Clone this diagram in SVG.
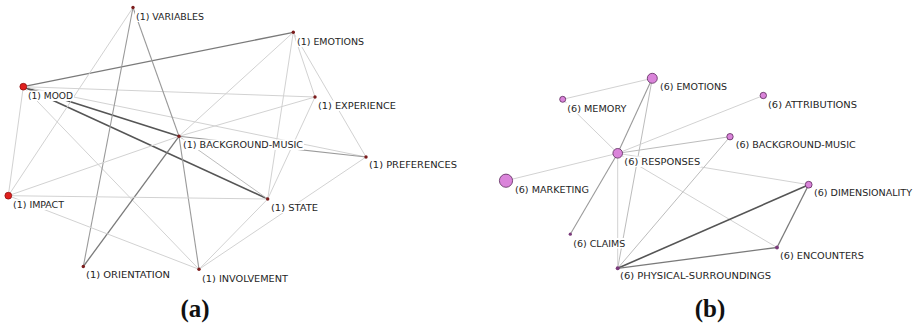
<svg xmlns="http://www.w3.org/2000/svg" width="920" height="329" viewBox="0 0 920 329">
  <style>
    .e-lt { stroke: #d2d2d2; stroke-width: 1; fill: none; }
    .e-ml { stroke: #bcbcbc; stroke-width: 1; fill: none; }
    .e-md { stroke: #9a9a9a; stroke-width: 1.1; fill: none; }
    .e-dm { stroke: #7a7a7a; stroke-width: 1.3; fill: none; }
    .e-dk { stroke: #555555; stroke-width: 1.6; fill: none; }
    .lbl-bg { fill: #ffffff; }
    .lbl { font-family: "DejaVu Sans Condensed", "Liberation Sans", sans-serif; font-size: 9.5px; fill: #252525; }
    .n-big { fill: #e0201e; stroke: #8e1212; stroke-width: 0.8; }
    .n-sm { fill: #7c1c1c; }
    .p-node { fill: #da84da; stroke: #5a2a5a; stroke-width: 0.8; }
    .p-sm { fill: #7a3a7a; }
    .cap { font-family: "Liberation Serif", "Times New Roman", serif; font-weight: bold; font-size: 25px; fill: #111111; }
  </style>

  <rect width="920" height="329" fill="#ffffff"/>

  <!-- network (a): connectors -->
  <g id="edges-a">
    <line class="e-dm" x1="23.3" y1="86.7" x2="293.3" y2="32.3"/>
    <line class="e-dk" x1="23.3" y1="86.7" x2="179" y2="136.3"/>
    <line class="e-dk" x1="23.3" y1="86.7" x2="267.7" y2="199"/>
    <line class="e-lt" x1="23.3" y1="86.7" x2="315" y2="97"/>
    <line class="e-lt" x1="23.3" y1="86.7" x2="366" y2="157"/>
    <line class="e-lt" x1="23.3" y1="86.7" x2="8.3" y2="195.7"/>
    <line class="e-lt" x1="23.3" y1="86.7" x2="199" y2="269.3"/>
    <line class="e-lt" x1="133" y1="7.5" x2="8.3" y2="195.7"/>
    <line class="e-md" x1="133" y1="7.5" x2="83.3" y2="266.5"/>
    <line class="e-md" x1="133" y1="7.5" x2="179" y2="136.3"/>
    <line class="e-md" x1="179" y1="136.3" x2="199" y2="269.3"/>
    <line class="e-dm" x1="179" y1="136.3" x2="83.3" y2="266.5"/>
    <line class="e-lt" x1="179" y1="136.3" x2="293.3" y2="32.3"/>
    <line class="e-lt" x1="8.3" y1="195.7" x2="179" y2="136.3"/>
    <line class="e-lt" x1="179" y1="136.3" x2="315" y2="97"/>
    <line class="e-ml" x1="179" y1="136.3" x2="267.7" y2="199"/>
    <line class="e-md" x1="179" y1="136.3" x2="366" y2="157"/>
    <line class="e-lt" x1="293.3" y1="32.3" x2="267.7" y2="199"/>
    <line class="e-lt" x1="293.3" y1="32.3" x2="315" y2="97"/>
    <line class="e-lt" x1="293.3" y1="32.3" x2="366" y2="157"/>
    <line class="e-lt" x1="315" y1="97" x2="267.7" y2="199"/>
    <line class="e-lt" x1="8.3" y1="195.7" x2="267.7" y2="199"/>
    <line class="e-lt" x1="8.3" y1="195.7" x2="199" y2="269.3"/>
    <line class="e-lt" x1="267.7" y1="199" x2="199" y2="269.3"/>
    <line class="e-lt" x1="366" y1="157" x2="199" y2="269.3"/>
  </g>

  <!-- network (b): connectors -->
  <g id="edges-b">
    <line class="e-lt" x1="562.7" y1="99.3" x2="652.3" y2="78.3"/>
    <line class="e-lt" x1="562.7" y1="99.3" x2="617.7" y2="153.3"/>
    <line class="e-md" x1="652.3" y1="78.3" x2="617.7" y2="153.3"/>
    <line class="e-ml" x1="652.3" y1="78.3" x2="617.7" y2="268.3"/>
    <line class="e-lt" x1="617.7" y1="153.3" x2="617.7" y2="268.3"/>
    <line class="e-lt" x1="617.7" y1="153.3" x2="506" y2="180.7"/>
    <line class="e-lt" x1="617.7" y1="153.3" x2="763.3" y2="95.5"/>
    <line class="e-ml" x1="617.7" y1="153.3" x2="730" y2="136.7"/>
    <line class="e-lt" x1="617.7" y1="153.3" x2="808.7" y2="184.7"/>
    <line class="e-lt" x1="617.7" y1="153.3" x2="777" y2="247.5"/>
    <line class="e-md" x1="617.7" y1="153.3" x2="570.3" y2="234.2"/>
    <line class="e-ml" x1="730" y1="136.7" x2="617.7" y2="268.3"/>
    <line class="e-dk" x1="617.7" y1="268.3" x2="808.7" y2="184.7"/>
    <line class="e-dm" x1="617.7" y1="268.3" x2="777" y2="247.5"/>
    <line class="e-dm" x1="808.7" y1="184.7" x2="777" y2="247.5"/>
  </g>

  <!-- network (a): nodes -->
  <g id="a-variables">
    <circle class="n-sm" cx="133" cy="7.5" r="1.7"/>
    <rect class="lbl-bg" x="135" y="11.5" width="70" height="10.5"/>
    <text class="lbl" x="136" y="20" textLength="68" lengthAdjust="spacingAndGlyphs">(1) VARIABLES</text>
  </g>
  <g id="a-emotions">
    <circle class="n-sm" cx="293.3" cy="32.3" r="1.7"/>
    <rect class="lbl-bg" x="296" y="36.5" width="69" height="10.5"/>
    <text class="lbl" x="297" y="45" textLength="67" lengthAdjust="spacingAndGlyphs">(1) EMOTIONS</text>
  </g>
  <g id="a-mood">
    <circle class="n-big" cx="23.3" cy="86.7" r="3.4"/>
    <rect class="lbl-bg" x="27" y="90.5" width="47" height="10.5"/>
    <text class="lbl" x="28" y="99" textLength="45" lengthAdjust="spacingAndGlyphs">(1) MOOD</text>
  </g>
  <g id="a-experience">
    <circle class="n-sm" cx="315" cy="97" r="1.7"/>
    <rect class="lbl-bg" x="317" y="100.5" width="80" height="10.5"/>
    <text class="lbl" x="318" y="109" textLength="78" lengthAdjust="spacingAndGlyphs">(1) EXPERIENCE</text>
  </g>
  <g id="a-background-music">
    <circle class="n-sm" cx="179" cy="136.3" r="1.7"/>
    <rect class="lbl-bg" x="182" y="139.5" width="122" height="10.5"/>
    <text class="lbl" x="183" y="148" textLength="120" lengthAdjust="spacingAndGlyphs">(1) BACKGROUND-MUSIC</text>
  </g>
  <g id="a-preferences">
    <circle class="n-sm" cx="366" cy="157" r="1.7"/>
    <rect class="lbl-bg" x="368" y="159.5" width="90" height="10.5"/>
    <text class="lbl" x="369" y="168" textLength="88" lengthAdjust="spacingAndGlyphs">(1) PREFERENCES</text>
  </g>
  <g id="a-impact">
    <circle class="n-big" cx="8.3" cy="195.7" r="3.4"/>
    <rect class="lbl-bg" x="12" y="199.5" width="53" height="10.5"/>
    <text class="lbl" x="13" y="208" textLength="51" lengthAdjust="spacingAndGlyphs">(1) IMPACT</text>
  </g>
  <g id="a-state">
    <circle class="n-sm" cx="267.7" cy="199" r="1.7"/>
    <rect class="lbl-bg" x="270" y="202.5" width="49" height="10.5"/>
    <text class="lbl" x="271" y="211" textLength="47" lengthAdjust="spacingAndGlyphs">(1) STATE</text>
  </g>
  <g id="a-orientation">
    <circle class="n-sm" cx="83.3" cy="266.5" r="1.7"/>
    <rect class="lbl-bg" x="85" y="269.5" width="86" height="10.5"/>
    <text class="lbl" x="86" y="278" textLength="84" lengthAdjust="spacingAndGlyphs">(1) ORIENTATION</text>
  </g>
  <g id="a-involvement">
    <circle class="n-sm" cx="199" cy="269.3" r="1.7"/>
    <rect class="lbl-bg" x="201" y="273" width="88" height="10.5"/>
    <text class="lbl" x="202" y="281.5" textLength="86" lengthAdjust="spacingAndGlyphs">(1) INVOLVEMENT</text>
  </g>

  <!-- network (b): nodes -->
  <g id="b-emotions">
    <circle class="p-node" cx="652.3" cy="78.3" r="5"/>
    <rect class="lbl-bg" x="659" y="81" width="69" height="10.5"/>
    <text class="lbl" x="660" y="89.5" textLength="67" lengthAdjust="spacingAndGlyphs">(6) EMOTIONS</text>
  </g>
  <g id="b-memory">
    <circle class="p-node" cx="562.7" cy="99.3" r="3"/>
    <rect class="lbl-bg" x="566.3" y="103" width="61" height="10.5"/>
    <text class="lbl" x="567.3" y="111.5" textLength="59" lengthAdjust="spacingAndGlyphs">(6) MEMORY</text>
  </g>
  <g id="b-attributions">
    <circle class="p-node" cx="763.3" cy="95.5" r="3.2"/>
    <rect class="lbl-bg" x="767" y="99.5" width="91" height="10.5"/>
    <text class="lbl" x="768" y="108" textLength="89" lengthAdjust="spacingAndGlyphs">(6) ATTRIBUTIONS</text>
  </g>
  <g id="b-background-music">
    <circle class="p-node" cx="730" cy="136.7" r="3.2"/>
    <rect class="lbl-bg" x="734.7" y="139.5" width="122" height="10.5"/>
    <text class="lbl" x="735.7" y="148" textLength="120" lengthAdjust="spacingAndGlyphs">(6) BACKGROUND-MUSIC</text>
  </g>
  <g id="b-responses">
    <circle class="p-node" cx="617.7" cy="153.3" r="4.8"/>
    <rect class="lbl-bg" x="623.3" y="156.5" width="78" height="10.5"/>
    <text class="lbl" x="624.3" y="165" textLength="76" lengthAdjust="spacingAndGlyphs">(6) RESPONSES</text>
  </g>
  <g id="b-marketing">
    <circle class="p-node" cx="506" cy="180.7" r="6.6"/>
    <rect class="lbl-bg" x="514" y="184" width="76" height="10.5"/>
    <text class="lbl" x="515" y="192.5" textLength="74" lengthAdjust="spacingAndGlyphs">(6) MARKETING</text>
  </g>
  <g id="b-dimensionality">
    <circle class="p-node" cx="808.7" cy="184.7" r="3.4"/>
    <rect class="lbl-bg" x="813" y="187.5" width="100" height="10.5"/>
    <text class="lbl" x="814" y="196" textLength="98" lengthAdjust="spacingAndGlyphs">(6) DIMENSIONALITY</text>
  </g>
  <g id="b-claims">
    <circle class="p-sm" cx="570.3" cy="234.2" r="1.6"/>
    <rect class="lbl-bg" x="572.3" y="238" width="54" height="10.5"/>
    <text class="lbl" x="573.3" y="246.5" textLength="52" lengthAdjust="spacingAndGlyphs">(6) CLAIMS</text>
  </g>
  <g id="b-encounters">
    <circle class="p-sm" cx="777" cy="247.5" r="1.9"/>
    <rect class="lbl-bg" x="779" y="250" width="86" height="10.5"/>
    <text class="lbl" x="780" y="258.5" textLength="84" lengthAdjust="spacingAndGlyphs">(6) ENCOUNTERS</text>
  </g>
  <g id="b-physical-surroundings">
    <circle class="p-sm" cx="617.7" cy="268.3" r="2"/>
    <rect class="lbl-bg" x="619" y="270.5" width="154" height="10.5"/>
    <text class="lbl" x="620" y="279" textLength="151" lengthAdjust="spacingAndGlyphs">(6) PHYSICAL-SURROUNDINGS</text>
  </g>

  <!-- panel captions -->
  <text class="cap" x="195" y="317" text-anchor="middle">(a)</text>
  <text class="cap" x="710" y="317" text-anchor="middle">(b)</text>
</svg>
